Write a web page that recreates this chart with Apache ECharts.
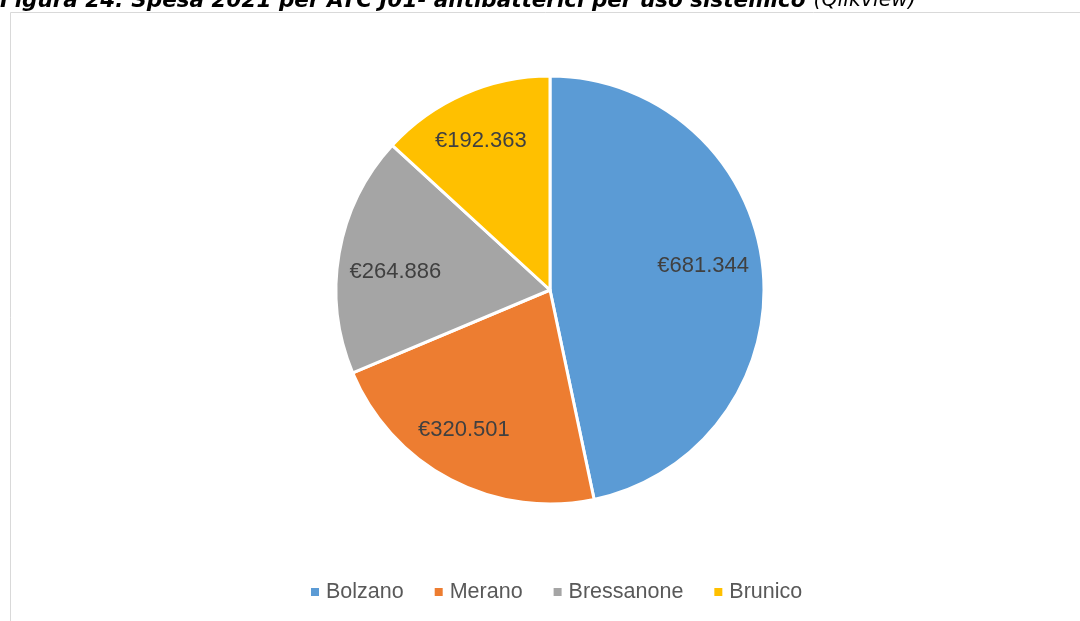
<!DOCTYPE html>
<html>
<head>
<meta charset="utf-8">
<script src="https://cdn.jsdelivr.net/npm/echarts@6/dist/echarts.min.js"></script>
<style>
  html, body { margin: 0; padding: 0; background: #fff; }
  #chart { width: 1080px; height: 621px; }
</style>
</head>
<body>
<div id="chart"></div>
<script>
// data
const regions = ["Bolzano", "Merano", "Bressanone", "Brunico"];
const spesa = [681344, 320501, 264886, 192363];
const colors = ["#5B9BD5", "#ED7D31", "#A5A5A5", "#FFC000"];
// small nudges so the labels sit where Excel put them
const labelNudge = [[-8, -7], [-11, -4], [5, 10], [-4, -1]];

const fmtEuro = (v) => "€" + v.toLocaleString("de-DE");

const pieData = regions.map((name, i) => ({
  name,
  value: spesa[i],
  itemStyle: { color: colors[i] },
}));

const chart = echarts.init(document.getElementById("chart"));

chart.setOption({
  animation: false,
  backgroundColor: "#fff",
  graphic: [
    // frame of the chart area
    {
      type: "rect",
      shape: { x: 10.5, y: 12.5, width: 1100, height: 700 },
      style: { fill: "none", stroke: "#D9D9D9", lineWidth: 1 },
      silent: true,
    },
    // caption (cut off at the top, like the source)
    {
      type: "text",
      left: 0,
      top: -10,
      style: {
        text: "{b|Figura 24: Spesa 2021 per ATC J01- antibatterici per uso sistemico}{i|(Qlikview)}",
        rich: {
          b: { fontFamily: "DejaVu Sans", fontWeight: "bold", fontStyle: "italic", fontSize: 21.5, fill: "#000" },
          i: { fontFamily: "DejaVu Sans", fontStyle: "italic", fontSize: 20.5, fill: "#000", padding: [0, 0, 0, 8] },
        },
      },
    },
  ],
  legend: {
    bottom: 13,
    left: 304,
    icon: "rect",
    itemWidth: 10,
    itemHeight: 10,
    itemGap: 29,
    textStyle: { fontFamily: "Liberation Sans", fontSize: 21.5, color: "#595959", padding: [0, 0, 0, 1] },
    data: regions,
  },
  series: [
    {
      type: "pie",
      center: [550, 290],
      radius: [0, 214],
      startAngle: 90,
      clockwise: true,
      label: { show: false },
      labelLine: { show: false },
      itemStyle: { borderColor: "#fff", borderWidth: 3 },
      data: pieData,
    },
    // invisible wider ring only to place the value labels further out
    {
      type: "pie",
      center: [550, 290],
      radius: [0, 318],
      startAngle: 90,
      clockwise: true,
      silent: true,
      legendHoverLink: false,
      itemStyle: { color: "rgba(0,0,0,0)", borderWidth: 0 },
      label: {
        show: true,
        position: "inside",
        fontFamily: "Liberation Sans",
        fontSize: 22,
        color: "#404040",
        formatter: (p) => fmtEuro(p.value),
      },
      labelLine: { show: false },
      data: regions.map((name, i) => ({
        name: name + " ",
        value: spesa[i],
        label: { offset: labelNudge[i] },
      })),
    },
  ],
});
</script>
</body>
</html>
